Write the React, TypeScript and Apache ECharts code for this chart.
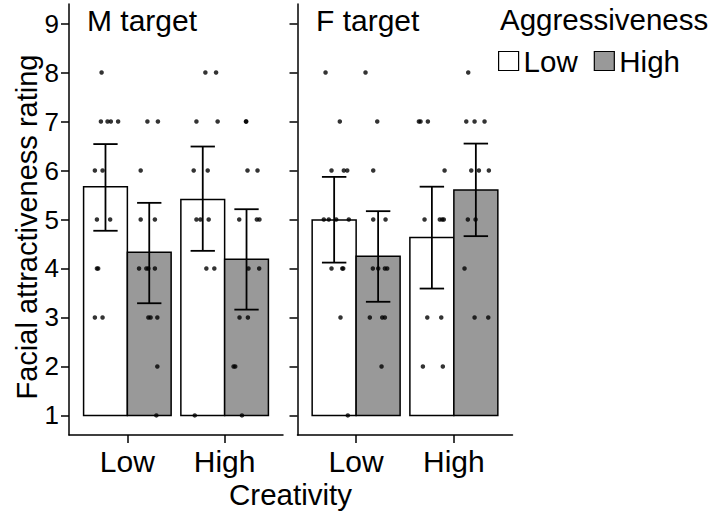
import React, { useEffect, useRef } from 'react';
import * as echarts from 'echarts';

const creativity = ['Low', 'High'];
const aggressiveness = ['Low', 'High'];
const panelTitles = ['M target', 'F target'];
const yTicks = [1, 2, 3, 4, 5, 6, 7, 8, 9];

// bar means, index = creativity level (Low, High)
const mLowMean = [5.67, 5.41];
const mHighMean = [4.33, 4.19];
const fLowMean = [4.99, 4.63];
const fHighMean = [4.25, 5.6];
// error bar limits
const mLowLower = [4.77, 4.36];
const mLowUpper = [6.54, 6.49];
const mHighLower = [3.29, 3.16];
const mHighUpper = [5.34, 5.21];
const fLowLower = [4.12, 3.59];
const fLowUpper = [5.87, 5.67];
const fHighLower = [3.32, 4.66];
const fHighUpper = [5.17, 6.55];

// individual ratings: [jittered creativity position, rating]
const mLowPts = [
  [0.735, 8], [0.728, 7], [0.796, 7], [0.83, 7], [0.905, 7], [0.666, 6], [0.745, 6],
  [0.687, 5], [0.823, 5], [0.687, 4], [0.7, 4], [0.666, 3], [0.745, 3],
  [1.802, 8], [1.912, 8], [1.71, 7], [1.928, 7], [1.682, 6], [1.826, 6],
  [1.71, 5], [1.751, 5], [1.836, 5], [1.812, 4], [1.894, 4], [1.693, 1],
];
const mHighPts = [
  [1.206, 7], [1.314, 7], [1.137, 6], [1.137, 5], [1.283, 5], [1.12, 4], [1.195, 4],
  [1.216, 4], [1.283, 4], [1.216, 3], [1.239, 3], [1.308, 3], [1.308, 2], [1.298, 1],
  [2.219, 7], [2.222, 7], [2.235, 6], [2.338, 6], [2.15, 5], [2.331, 5], [2.358, 5],
  [2.245, 4], [2.355, 4], [2.153, 3], [2.239, 3], [2.092, 2], [2.109, 2], [2.178, 1],
];
const fLowPts = [
  [0.687, 8], [0.833, 7], [0.748, 6], [0.874, 6], [0.909, 6], [0.669, 5], [0.72, 5],
  [0.796, 5], [0.925, 5], [0.748, 4], [0.858, 4], [0.868, 4], [0.84, 3], [0.915, 1],
  [1.642, 7], [1.659, 7], [1.734, 7], [1.905, 6], [1.7, 5], [1.856, 5], [1.881, 5],
  [1.897, 5], [1.728, 3], [1.871, 3], [1.683, 2], [1.887, 2],
];
const fHighPts = [
  [1.096, 8], [1.216, 7], [1.175, 6], [1.175, 5], [1.301, 5], [1.171, 4], [1.226, 4],
  [1.294, 4], [1.318, 4], [1.14, 3], [1.267, 3], [1.294, 3], [1.26, 2],
  [2.147, 8], [2.127, 7], [2.212, 7], [2.314, 7], [2.178, 6], [2.256, 6], [2.358, 6],
  [2.143, 5], [2.222, 5], [2.109, 4], [2.212, 3], [2.352, 3],
];

const FONT = 'Liberation Sans, Arial, Helvetica, sans-serif';
const FILLS = ['#ffffff', '#999999'];
const DODGE = 0.225;
const CAP = 0.125;

function barSeries(name: string, grid: number, means: number[], fill: string, dir: number) {
  return {
    type: 'custom',
    name,
    xAxisIndex: grid,
    yAxisIndex: grid,
    z: 2,
    data: means.map((m, i) => [i + 1 + dir * DODGE, m]),
    encode: { x: 0, y: 1 },
    renderItem: (params: any, api: any) => {
      const x = api.value(0);
      const y = api.value(1);
      const p1 = api.coord([x - DODGE, y]);
      const p2 = api.coord([x + DODGE, 1]);
      return {
        type: 'rect',
        shape: { x: p1[0], y: p1[1], width: p2[0] - p1[0], height: p2[1] - p1[1] },
        style: { fill, stroke: '#000', lineWidth: 1.5 },
      };
    },
  };
}

function errSeries(grid: number, lower: number[], upper: number[], dir: number) {
  return {
    type: 'custom',
    xAxisIndex: grid,
    yAxisIndex: grid,
    z: 4,
    data: lower.map((lo, i) => [i + 1 + dir * DODGE, lo, upper[i]]),
    encode: { x: 0, y: [1, 2] },
    renderItem: (params: any, api: any) => {
      const x = api.value(0);
      const lo = api.value(1);
      const hi = api.value(2);
      const a = api.coord([x - CAP, hi]);
      const b = api.coord([x + CAP, lo]);
      const c = api.coord([x, hi]);
      const st = { stroke: '#000', lineWidth: 1.8 };
      return {
        type: 'group',
        children: [
          { type: 'line', shape: { x1: c[0], y1: a[1], x2: c[0], y2: b[1] }, style: st },
          { type: 'line', shape: { x1: a[0], y1: a[1], x2: b[0], y2: a[1] }, style: st },
          { type: 'line', shape: { x1: a[0], y1: b[1], x2: b[0], y2: b[1] }, style: st },
        ],
      };
    },
  };
}

function dotSeries(grid: number, pts: number[][]) {
  return {
    type: 'scatter',
    xAxisIndex: grid,
    yAxisIndex: grid,
    z: 3,
    symbolSize: 4.5,
    itemStyle: { color: '#000' },
    data: pts,
  };
}

export default function App() {
  const ref = useRef<HTMLDivElement>(null);
  useEffect(() => {
    if (!ref.current) return;
    const chart = echarts.init(ref.current, null, { renderer: 'svg' });
    const axisLine = { show: true, lineStyle: { color: '#000', width: 1.5 } };
    const xAxis = [0, 1].map((g) => ({
      type: 'value',
      gridIndex: g,
      min: 0.4,
      max: 2.6,
      splitLine: { show: false },
      axisLine,
      axisTick: { show: true, length: 8, customValues: [1, 2], lineStyle: { color: '#000', width: 1.5 } },
      axisLabel: {
        show: true,
        customValues: [1, 2],
        formatter: (v: number) => creativity[Math.round(v) - 1] || '',
        color: '#000',
        fontSize: 30,
        fontFamily: FONT,
        margin: 11,
      },
    }));
    const yAxis = [0, 1].map((g) => ({
      type: 'value',
      gridIndex: g,
      min: 0.6,
      max: 9.4,
      splitLine: { show: false },
      axisLine,
      axisTick: { show: true, length: 8, customValues: yTicks, lineStyle: { color: '#000', width: 1.5 } },
      axisLabel: {
        show: g === 0,
        customValues: yTicks,
        color: '#000',
        fontSize: 26,
        fontFamily: FONT,
        margin: 10,
      },
    }));
    chart.setOption({
      animation: false,
      backgroundColor: '#fff',
      grid: [
        { left: 69, top: 4, width: 214, height: 431 },
        { left: 297.5, top: 4, width: 215, height: 431 },
      ],
      xAxis,
      yAxis,
      legend: {
        left: 493,
        top: 41,
        itemWidth: 20,
        itemHeight: 19,
        itemGap: 16,
        selectedMode: false,
        textStyle: { fontSize: 29.5, fontFamily: FONT, color: '#000' },
        data: aggressiveness.map((a, i) => ({
          name: a,
          icon: 'rect',
          itemStyle: { color: FILLS[i], borderColor: '#000', borderWidth: 1.2 },
        })),
      },
      graphic: [
        ...panelTitles.map((t, i) => ({
          type: 'text',
          left: i === 0 ? 87 : 316,
          top: 5,
          style: { text: t, fontSize: 30, fontFamily: FONT, fill: '#000' },
        })),
        {
          type: 'text',
          left: 500,
          top: 4,
          style: { text: 'Aggressiveness', fontSize: 29.5, fontFamily: FONT, fill: '#000' },
        },
        {
          type: 'text',
          x: 290.5,
          y: 494,
          style: { text: 'Creativity', fontSize: 29.5, fontFamily: FONT, fill: '#000', align: 'center', verticalAlign: 'middle' },
        },
        {
          type: 'text',
          x: 27,
          y: 227,
          rotation: Math.PI / 2,
          style: { text: 'Facial attractiveness rating', fontSize: 29, fontFamily: FONT, fill: '#000', align: 'center', verticalAlign: 'middle' },
        },
      ],
      series: [
        barSeries('Low', 0, mLowMean, FILLS[0], -1),
        barSeries('High', 0, mHighMean, FILLS[1], 1),
        barSeries('Low', 1, fLowMean, FILLS[0], -1),
        barSeries('High', 1, fHighMean, FILLS[1], 1),
        dotSeries(0, mLowPts),
        dotSeries(0, mHighPts),
        dotSeries(1, fLowPts),
        dotSeries(1, fHighPts),
        errSeries(0, mLowLower, mLowUpper, -1),
        errSeries(0, mHighLower, mHighUpper, 1),
        errSeries(1, fLowLower, fLowUpper, -1),
        errSeries(1, fHighLower, fHighUpper, 1),
      ],
    });
    return () => chart.dispose();
  }, []);
  return <div ref={ref} style={{ position: 'fixed', left: 0, top: 0, width: 714, height: 516 }} />;
}
